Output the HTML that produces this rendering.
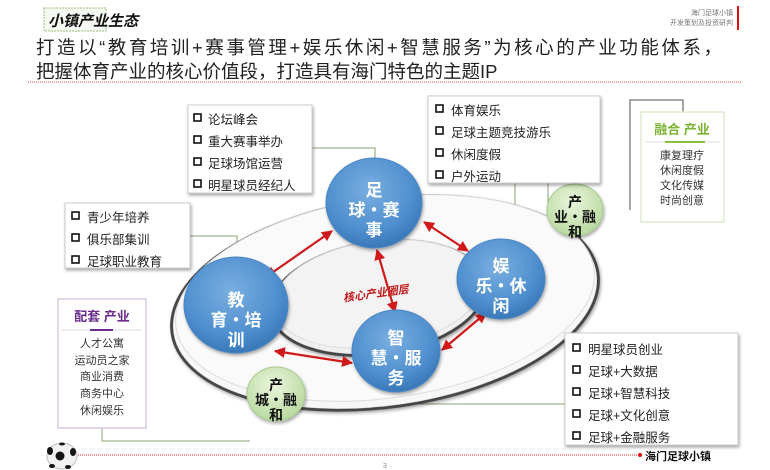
<!DOCTYPE html>
<html><head><meta charset="utf-8"><style>
html,body{margin:0;padding:0;background:#fff;}
svg{display:block;font-family:"Liberation Sans","Noto Sans CJK SC",sans-serif;}
</style></head><body>
<svg width="770" height="470" viewBox="0 0 770 470" xmlns="http://www.w3.org/2000/svg">
<defs>
<radialGradient id="blue" cx="45%" cy="35%" r="65%"><stop offset="0" stop-color="#7aaee0"/><stop offset="0.7" stop-color="#4f8fcf"/><stop offset="1" stop-color="#3a78b8"/></radialGradient>
<radialGradient id="green" cx="45%" cy="35%" r="65%"><stop offset="0" stop-color="#eaf5dc"/><stop offset="1" stop-color="#b8d9a0"/></radialGradient>
<marker id="ah" viewBox="0 0 10 10" refX="9" refY="5" markerWidth="5" markerHeight="5" orient="auto-start-reverse"><path d="M0,0L10,5L0,10z" fill="#d0191b"/></marker>
<filter id="sh" x="-20%" y="-20%" width="140%" height="140%"><feDropShadow dx="1" dy="2" stdDeviation="1.5" flood-color="#000" flood-opacity="0.35"/></filter>
</defs>
<!-- header -->
<rect x="44" y="8" width="62" height="23" fill="#f6f8f2" stroke="#9cc07a" stroke-dasharray="2,1"/>
<text x="48" y="26" font-size="15" font-weight="bold" font-style="italic" fill="#111">小镇产业生态</text>
<text x="733" y="15" font-size="7" fill="#777" text-anchor="end">海门足球小镇</text>
<text x="733" y="25" font-size="7" fill="#777" text-anchor="end">开发策划及投资研判</text>
<rect x="737" y="6" width="2" height="24" fill="#e01010"/>
<text x="36" y="54" font-size="18.5" fill="#222" textLength="686" lengthAdjust="spacing">打造以“教育培训+赛事管理+娱乐休闲+智慧服务”为核心的产业功能体系，</text>
<text x="36" y="78" font-size="18.5" fill="#222">把握体育产业的核心价值段，打造具有海门特色的主题IP</text>
<line x1="28" y1="82" x2="742" y2="82" stroke="#e05050" stroke-dasharray="1,1"/>

<!-- connectors -->
<g fill="none" stroke="#8aa070" stroke-width="1">
<polyline points="312,148 375,148 375,160"/>
<polyline points="190,236 237,236 237,260"/>
<polyline points="515,183 515,218 545,218"/>
<polyline points="548,280 548,110 600,110"/>
<polyline points="396,390 396,404 565,404"/>
<polyline points="102,428 102,441 250,441"/>
</g>
<polyline points="630,210 630,100 683,100 683,112" fill="none" stroke="#888" stroke-width="1.5"/>

<!-- ellipses -->
<ellipse cx="385" cy="303" rx="215" ry="104" transform="rotate(-8 385 303)" fill="#f7f7f7" stroke="#444" stroke-width="3" filter="url(#sh)"/>
<ellipse cx="385" cy="298" rx="211" ry="100" transform="rotate(-8 385 298)" fill="#fafafa" stroke="#ddd" stroke-width="1"/>
<ellipse cx="378" cy="298" rx="108" ry="56" transform="rotate(-8 378 298)" fill="#f0f0f0" stroke="#444" stroke-width="3" filter="url(#sh)"/>
<ellipse cx="378" cy="294" rx="105" ry="53" transform="rotate(-8 378 294)" fill="#f3f3f3" stroke="#ddd"/>

<text x="343" y="298" font-size="11" font-style="italic" font-weight="bold" fill="#c01818" transform="rotate(-8 370 295)">核心产业圈层</text>

<!-- arrows -->
<g stroke="#d0191b" stroke-width="2.2" marker-start="url(#ah)" marker-end="url(#ah)">
<line x1="266" y1="277" x2="332" y2="231"/>
<line x1="424" y1="222" x2="468" y2="251"/>
<line x1="377" y1="250" x2="395" y2="312"/>
<line x1="486" y1="313" x2="442" y2="350"/>
<line x1="275" y1="351" x2="352" y2="363"/>
</g>

<!-- circles -->
<g filter="url(#sh)">
<ellipse cx="374" cy="203" rx="48" ry="45" fill="url(#blue)" stroke="#4a86c2"/>
<ellipse cx="236" cy="305" rx="52" ry="48" fill="url(#blue)" stroke="#4a86c2"/>
<ellipse cx="501" cy="279" rx="44" ry="40" fill="url(#blue)" stroke="#4a86c2"/>
<ellipse cx="396" cy="351" rx="44" ry="41" fill="url(#blue)" stroke="#4a86c2"/>
<ellipse cx="575" cy="210" rx="28" ry="26" fill="url(#green)" stroke="#a8cc90"/>
<ellipse cx="276" cy="394" rx="29" ry="27" fill="url(#green)" stroke="#a8cc90"/>
</g>
<g font-size="17" font-weight="bold" fill="#fff" text-anchor="middle">
<text x="374" y="196">足</text><text x="374" y="216">球・赛</text><text x="374" y="236">事</text>
<text x="236" y="306">教</text><text x="236" y="326">育・培</text><text x="236" y="346">训</text>
<text x="501" y="272">娱</text><text x="501" y="292">乐・休</text><text x="501" y="312">闲</text>
<text x="396" y="344">智</text><text x="396" y="364">慧・服</text><text x="396" y="384">务</text>
</g>
<g font-size="14" font-weight="bold" fill="#111" text-anchor="middle">
<text x="575" y="207">产</text><text x="575" y="222">业・融</text><text x="575" y="237">和</text>
<text x="276" y="390">产</text><text x="276" y="405">城・融</text><text x="276" y="420">和</text>
</g>

<!-- list boxes -->
<g fill="#fff" stroke="#ccc" filter="url(#sh)">
<rect x="188" y="105" width="124" height="88"/>
<rect x="65" y="203" width="125" height="65"/>
<rect x="428" y="96" width="172" height="87"/>
<rect x="565" y="333" width="173" height="112"/>
</g>
<g font-size="12.5" fill="#222">
<g><rect x="194" y="114" width="7" height="7" fill="none" stroke="#111" stroke-width="1.6"/><text x="208" y="124">论坛峰会</text></g>
<g><rect x="194" y="136" width="7" height="7" fill="none" stroke="#111" stroke-width="1.6"/><text x="208" y="146">重大赛事举办</text></g>
<g><rect x="194" y="158" width="7" height="7" fill="none" stroke="#111" stroke-width="1.6"/><text x="208" y="168">足球场馆运营</text></g>
<g><rect x="194" y="180" width="7" height="7" fill="none" stroke="#111" stroke-width="1.6"/><text x="208" y="190">明星球员经纪人</text></g>

<g><rect x="72" y="212" width="7" height="7" fill="none" stroke="#111" stroke-width="1.6"/><text x="87" y="222">青少年培养</text></g>
<g><rect x="72" y="234" width="7" height="7" fill="none" stroke="#111" stroke-width="1.6"/><text x="87" y="244">俱乐部集训</text></g>
<g><rect x="72" y="256" width="7" height="7" fill="none" stroke="#111" stroke-width="1.6"/><text x="87" y="266">足球职业教育</text></g>

<g><rect x="436" y="105" width="7" height="7" fill="none" stroke="#111" stroke-width="1.6"/><text x="451" y="115">体育娱乐</text></g>
<g><rect x="436" y="127" width="7" height="7" fill="none" stroke="#111" stroke-width="1.6"/><text x="451" y="137">足球主题竞技游乐</text></g>
<g><rect x="436" y="149" width="7" height="7" fill="none" stroke="#111" stroke-width="1.6"/><text x="451" y="159">休闲度假</text></g>
<g><rect x="436" y="171" width="7" height="7" fill="none" stroke="#111" stroke-width="1.6"/><text x="451" y="181">户外运动</text></g>

<g><rect x="573" y="344" width="7" height="7" fill="none" stroke="#111" stroke-width="1.6"/><text x="588" y="354">明星球员创业</text></g>
<g><rect x="573" y="366" width="7" height="7" fill="none" stroke="#111" stroke-width="1.6"/><text x="588" y="376">足球+大数据</text></g>
<g><rect x="573" y="388" width="7" height="7" fill="none" stroke="#111" stroke-width="1.6"/><text x="588" y="398">足球+智慧科技</text></g>
<g><rect x="573" y="410" width="7" height="7" fill="none" stroke="#111" stroke-width="1.6"/><text x="588" y="420">足球+文化创意</text></g>
<g><rect x="573" y="432" width="7" height="7" fill="none" stroke="#111" stroke-width="1.6"/><text x="588" y="442">足球+金融服务</text></g>
</g>

<!-- 融合产业 -->
<rect x="641" y="112" width="83" height="110" fill="#fff" stroke="#dfeccd" stroke-width="1.5"/>
<text x="682" y="134" font-size="13" font-weight="bold" fill="#7ab32e" text-anchor="middle">融合 产业</text>
<line x1="645" y1="142" x2="720" y2="142" stroke="#ddd"/>
<line x1="665" y1="142" x2="705" y2="142" stroke="#8cc03c" stroke-width="2"/>
<g font-size="11" fill="#333" text-anchor="middle">
<text x="682" y="159">康复理疗</text><text x="682" y="174">休闲度假</text><text x="682" y="189">文化传媒</text><text x="682" y="204">时尚创意</text>
</g>

<!-- 配套产业 -->
<rect x="58" y="299" width="88" height="129" fill="#fff" stroke="#d8c8e4" stroke-width="1.5"/>
<text x="102" y="321" font-size="13" font-weight="bold" fill="#6a2c8a" text-anchor="middle">配套 产业</text>
<line x1="62" y1="330" x2="142" y2="330" stroke="#ddd"/>
<line x1="90" y1="330" x2="113" y2="330" stroke="#6a2c8a" stroke-width="2"/>
<g font-size="11" fill="#333" text-anchor="middle">
<text x="102" y="347">人才公寓</text><text x="102" y="364">运动员之家</text><text x="102" y="380">商业消费</text><text x="102" y="397">商务中心</text><text x="102" y="414">休闲娱乐</text>
</g>

<!-- footer -->
<ellipse cx="62" cy="456" rx="15" ry="13" fill="#f2f2f2" stroke="#bbb"/>
<circle cx="60" cy="456" r="4.5" fill="#151515"/><ellipse cx="50" cy="451" rx="3" ry="4" fill="#151515"/><ellipse cx="73" cy="452" rx="3" ry="4" fill="#151515"/><ellipse cx="52" cy="466" rx="3" ry="2" fill="#151515"/><ellipse cx="68" cy="467" rx="3" ry="2" fill="#151515"/><ellipse cx="62" cy="444" rx="3" ry="1.5" fill="#151515"/>
<line x1="78" y1="455" x2="640" y2="455" stroke="#e03030" stroke-dasharray="1,1"/>
<circle cx="640" cy="455" r="2" fill="#e01010"/>
<text x="645" y="460" font-size="11" font-weight="bold" fill="#111">海门足球小镇</text>
<text x="385" y="468" font-size="7" fill="#888" text-anchor="middle">3</text>
</svg>
</body></html>
